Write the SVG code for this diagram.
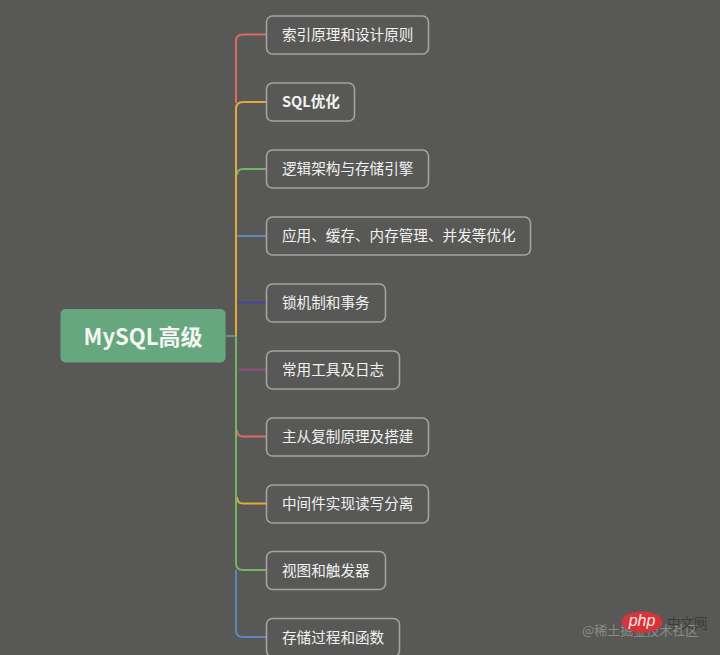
<svg xmlns="http://www.w3.org/2000/svg" width="720" height="655" viewBox="0 0 720 655">
<style>
.n{fill:#585957;stroke:#a3a4a1;stroke-width:1.6}
.t{font-family:"Noto Sans CJK SC","Liberation Sans",sans-serif;font-size:14.600px;fill:#f2f2f0;dominant-baseline:central}
.c{fill:none;stroke-width:2}
</style>
<rect width="720" height="655" fill="#585957"/>
<g id="connectors">
<path class="c" stroke="#5d8d9a" d="M226 336H236"/>
<path class="c" stroke="#5f86b8" d="M236 570V630Q236 637 243 637H266"/>
<path class="c" stroke="#d96c63" d="M236 103V41Q236 34.500 243 34.500H266"/>
<path class="c" stroke="#74b565" d="M237 175Q237 169 243 169H266"/>
<path class="c" stroke="#5f86b8" d="M237 236H266"/>
<path class="c" stroke="#45459a" d="M238 302.500H266"/>
<path class="c" stroke="#8c4f80" d="M238 369.500H266"/>
<path class="c" stroke="#d96c63" d="M237 430Q237 436.500 243 436.500H266"/>
<path class="c" stroke="#e0aa3a" d="M237 497Q237 503.500 243 503.500H266"/>
<path class="c" stroke="#e0aa3a" d="M236 336V109Q236 102 243 102H266"/>
<path class="c" stroke="#74b565" d="M236 336V563Q236 570 243 570H266"/>
</g>
<g id="root"><rect x="60.500" y="309" width="165" height="53.500" rx="5" fill="#67a77f"/><text x="143" y="335" text-anchor="middle" style="font-family:'Noto Sans CJK SC','Liberation Sans',sans-serif;font-size:22px;font-weight:700;fill:#f4f6f2;dominant-baseline:central">MySQL高级</text></g>
<g id="n1"><rect class="n" x="266.500" y="16" width="162" height="38" rx="6"/><text class="t" x="282" y="33">索引原理和设计原则</text></g>
<g id="n2"><rect class="n" x="266.500" y="83" width="88" height="38" rx="6"/><text class="t" x="282" y="100" font-weight="700">SQL优化</text></g>
<g id="n3"><rect class="n" x="266.500" y="150" width="162" height="38" rx="6"/><text class="t" x="282" y="167">逻辑架构与存储引擎</text></g>
<g id="n4"><rect class="n" x="266.500" y="217" width="264" height="38" rx="6"/><text class="t" x="282" y="234">应用、缓存、内存管理、并发等优化</text></g>
<g id="n5"><rect class="n" x="266.500" y="284" width="119" height="38" rx="6"/><text class="t" x="282" y="301">锁机制和事务</text></g>
<g id="n6"><rect class="n" x="266.500" y="351" width="133" height="38" rx="6"/><text class="t" x="282" y="368">常用工具及日志</text></g>
<g id="n7"><rect class="n" x="266.500" y="418" width="162" height="38" rx="6"/><text class="t" x="282" y="435">主从复制原理及搭建</text></g>
<g id="n8"><rect class="n" x="266.500" y="485" width="162" height="38" rx="6"/><text class="t" x="282" y="502">中间件实现读写分离</text></g>
<g id="n9"><rect class="n" x="266.500" y="551.500" width="119" height="38" rx="6"/><text class="t" x="282" y="569">视图和触发器</text></g>
<g id="n10"><rect class="n" x="266.500" y="618.500" width="133" height="38" rx="6"/><text class="t" x="282" y="636">存储过程和函数</text></g>
<g id="watermark">
<text x="582" y="629" style="font-family:'Noto Sans CJK SC','Liberation Sans',sans-serif;font-size:13px;fill:#8b8c89;dominant-baseline:central">@稀土掘金技术社区</text>
<ellipse cx="642" cy="622" rx="20.500" ry="10.500" fill="#d8333a"/>
<text x="642" y="620" text-anchor="middle" style="font-family:'Liberation Sans',sans-serif;font-size:16px;font-style:italic;fill:#f3e8e6;dominant-baseline:central">php</text>
<text x="667" y="622" style="font-family:'Noto Sans CJK SC','Liberation Sans',sans-serif;font-size:13.500px;fill:#3e3a38;dominant-baseline:central">中文网</text>
</g>
</svg>
